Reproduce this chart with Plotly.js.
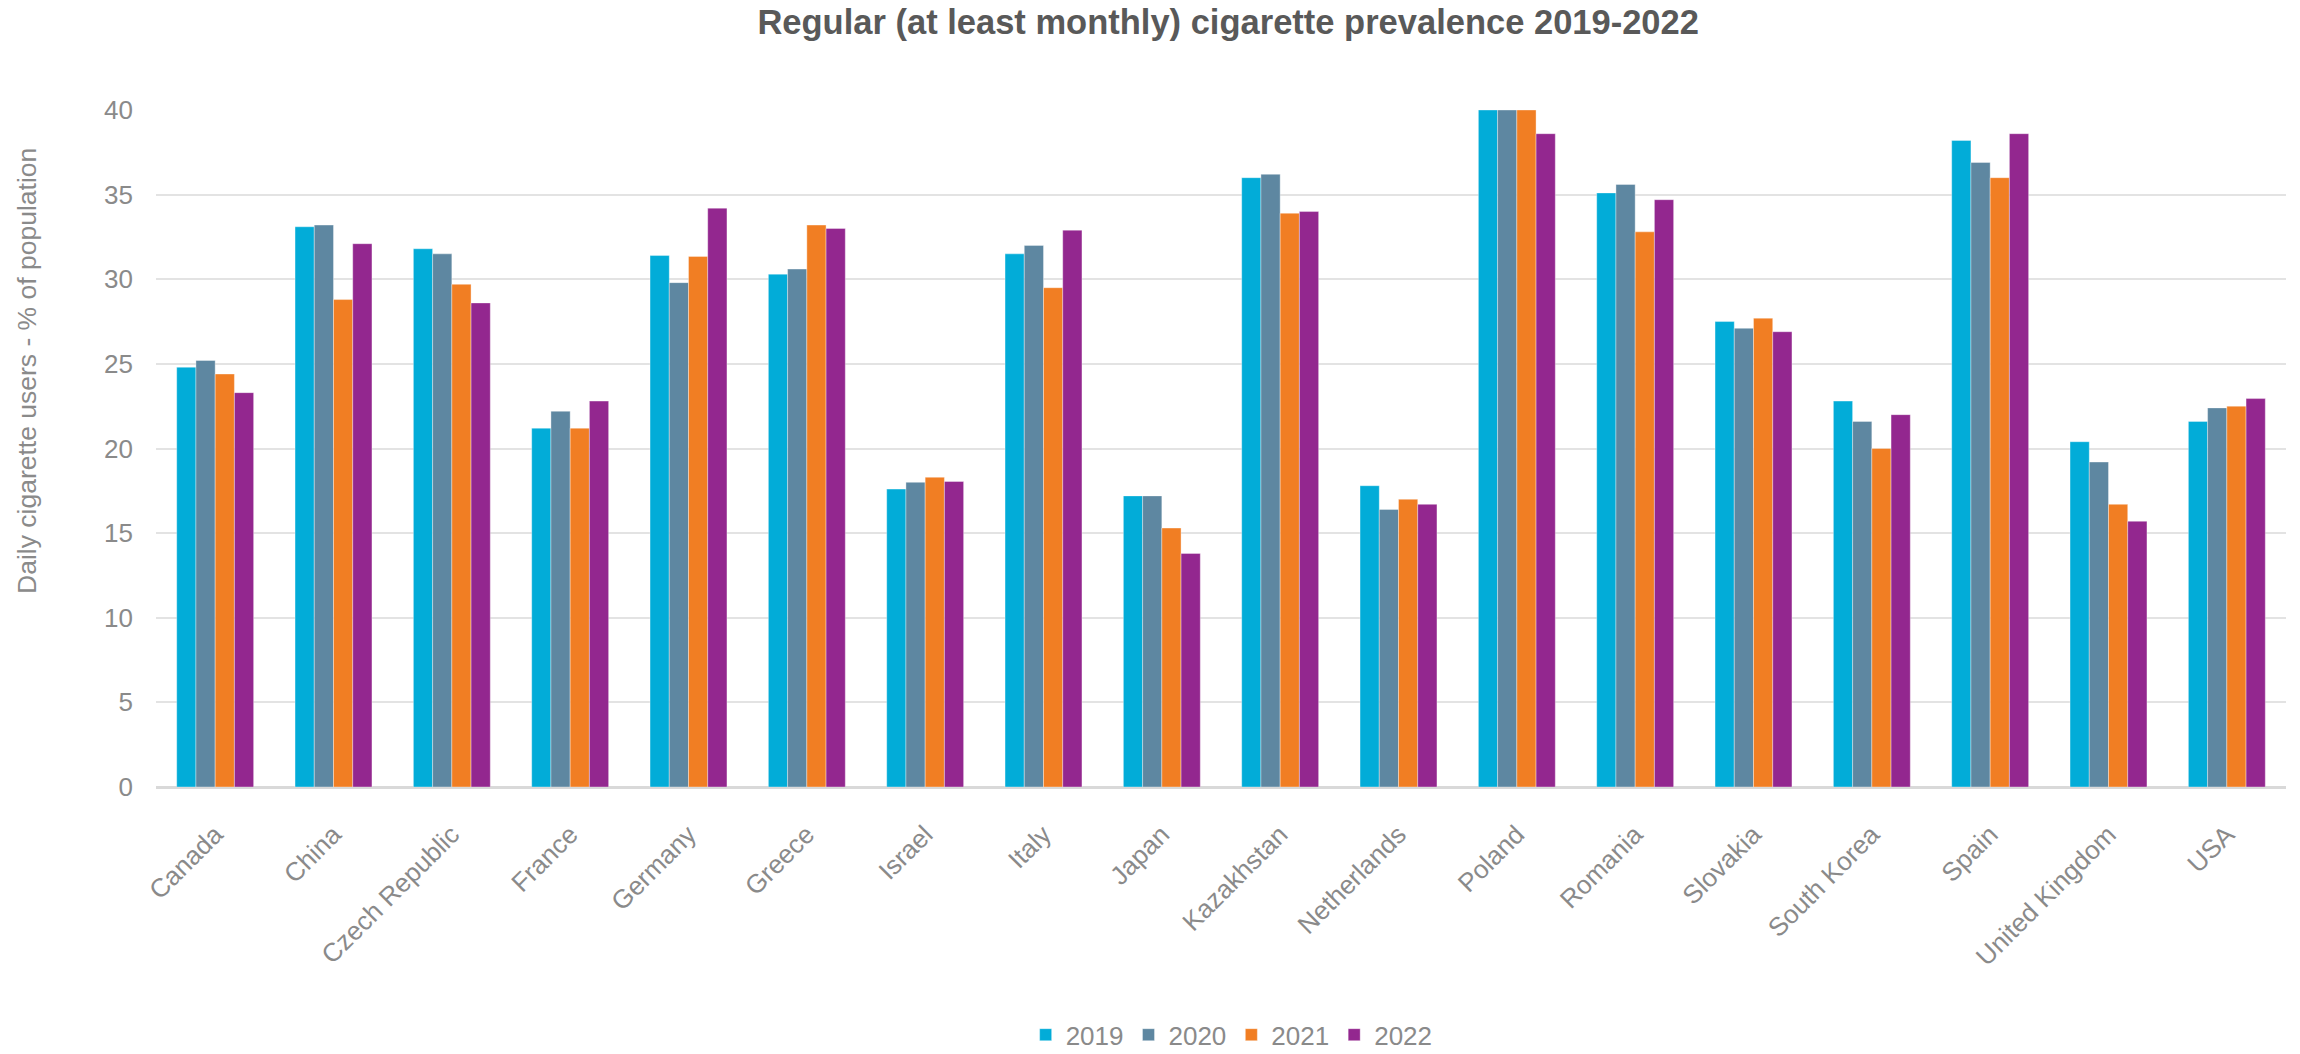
<!DOCTYPE html>
<html>
<head>
<meta charset="utf-8">
<script src="https://cdn.plot.ly/plotly-3.0.1.min.js"></script>
<style>html,body{margin:0;padding:0;background:#fff;}#chart{width:2300px;height:1054px;}</style>
</head>
<body>
<div id="chart"></div>
<script>
const countries = ["Canada","China","Czech Republic","France","Germany","Greece","Israel","Italy","Japan","Kazakhstan","Netherlands","Poland","Romania","Slovakia","South Korea","Spain","United Kingdom","USA"];
const years = ["2019","2020","2021","2022"];
const v2019 = [24.8,33.1,31.8,21.2,31.4,30.3,17.6,31.5,17.2,36.0,17.8,40.0,35.1,27.5,22.8,38.2,20.4,21.6];
const v2020 = [25.2,33.2,31.5,22.2,29.8,30.6,18.0,32.0,17.2,36.2,16.4,40.0,35.6,27.1,21.6,36.9,19.2,22.4];
const v2021 = [24.4,28.8,29.7,21.2,31.35,33.2,18.3,29.5,15.3,33.9,17.0,40.0,32.8,27.7,20.0,36.0,16.7,22.5];
const v2022 = [23.3,32.1,28.6,22.8,34.2,33.0,18.05,32.9,13.8,34.0,16.7,38.6,34.7,26.9,22.0,38.6,15.7,22.95];
const colors = ["#02ACD8","#5E87A1","#F17E23","#93278F"];
const series = [v2019, v2020, v2021, v2022];
const yTitle = "Daily cigarette users - % of population";
const chartTitle = "Regular (at least monthly) cigarette prevalence 2019-2022";

const traces = series.map((vals, i) => ({
  type: "bar",
  name: years[i],
  x: countries,
  y: vals,
  marker: {color: colors[i], line: {color: "rgba(255,255,255,0.6)", width: 0.6}},
  hoverinfo: "x+y+name"
}));

const fontFam = "Liberation Sans, Arial, sans-serif";
const gray = "#8a8a8a";
const layout = {
  width: 2300, height: 1054,
  paper_bgcolor: "#fff", plot_bgcolor: "#fff",
  margin: {l: 156, r: 14, t: 110, b: 267, autoexpand: false},
  barmode: "group",
  bargap: 0.35,
  bargroupgap: 0,
  font: {family: fontFam, color: gray, size: 26},
  title: {
    text: "<b>" + chartTitle + "</b>",
    font: {family: fontFam, size: 34.5, color: "#595959"},
    xref: "container", x: 0.534, xanchor: "center",
    yref: "container", y: 0.979, yanchor: "middle"
  },
  xaxis: {
    type: "category",
    tickangle: -45,
    tickfont: {family: fontFam, size: 26, color: gray},
    showgrid: false,
    showline: true, linecolor: "#d9d9d9", linewidth: 2,
    ticks: "", ticklabelstandoff: 20,
    automargin: false
  },
  yaxis: {
    range: [0, 40],
    dtick: 5,
    tickfont: {family: fontFam, size: 26, color: gray},
    showgrid: true, gridcolor: "#e3e3e3", gridwidth: 2,
    zeroline: true, zerolinecolor: "#d9d9d9", zerolinewidth: 2,
    showline: false,
    ticks: "", ticklabelstandoff: 22,
    automargin: false
  },
  annotations: [{
    text: yTitle,
    textangle: -90,
    xref: "paper", yref: "paper",
    x: (27 - 156) / 2130, y: (787 - 371) / 677,
    xanchor: "center", yanchor: "middle",
    showarrow: false,
    font: {family: fontFam, size: 26.5, color: gray}
  }],
  legend: {
    orientation: "h",
    x: 0.505, xanchor: "center",
    y: -0.366, yanchor: "middle",
    font: {family: fontFam, size: 26, color: gray},
    itemwidth: 30,
    traceorder: "normal"
  },
  showlegend: true
};

Plotly.newPlot("chart", traces, layout, {displayModeBar: false, responsive: false});
</script>
</body>
</html>
